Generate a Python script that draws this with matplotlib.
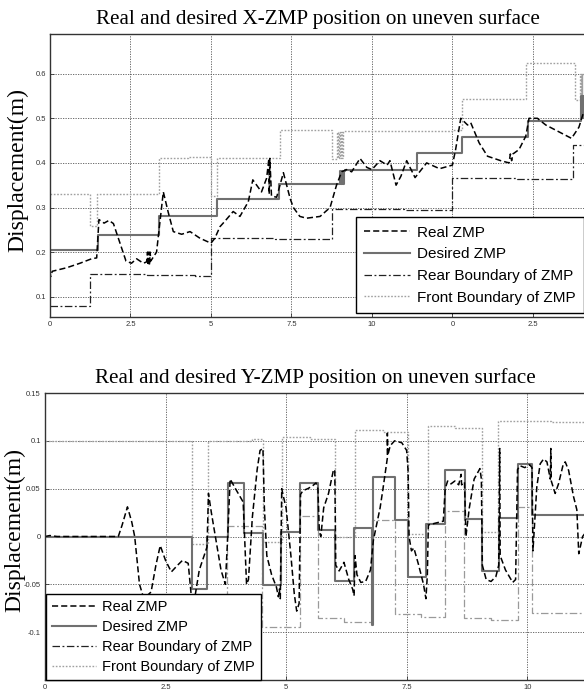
import matplotlib
matplotlib.use("Agg")
import matplotlib.pyplot as plt

# ---------------- X-ZMP (top plot) ----------------
x_ticks = [0, 2.5, 5, 7.5, 10, 12.5, 15]
x_ticklabels = ["0", "2.5", "5", "7.5", "10", "0", "2.5"]
x_yticks = [0.1, 0.2, 0.3, 0.4, 0.5, 0.6]

x_real_t = [0, 0.02, 0.07, 0.52, 0.93, 1.29, 1.45, 1.52, 1.68, 1.83,
            1.97, 2.17, 2.36, 2.53, 2.69, 2.9, 3.0, 3.03, 3.05, 3.07,
            3.09, 3.11, 3.13, 3.31, 3.52, 3.67, 3.83, 4.09, 4.35, 4.66,
            5.0, 5.12, 5.28, 5.43, 5.69, 5.9, 6.16, 6.3, 6.57, 6.73,
            6.8, 6.81, 6.83, 6.88, 7.04, 7.25, 7.46, 7.56, 7.76, 7.97,
            8.39, 8.7, 8.9, 9.06, 9.21, 9.37, 9.63, 9.84, 10.0, 10.25,
            10.47, 10.56, 10.75, 10.9, 11.08, 11.34, 11.7, 12.1, 12.5, 12.6,
            12.76, 12.97, 13.07, 13.33, 13.59, 14.0, 14.26, 14.3, 14.34, 14.38,
            14.57, 14.78, 14.88, 15.14, 15.4, 15.8, 16.2, 16.43, 16.56]
x_real_v = [0.157, 0.145, 0.157, 0.165, 0.175, 0.185, 0.187, 0.273, 0.265, 0.271,
            0.264, 0.221, 0.18, 0.175, 0.185, 0.175, 0.178, 0.2, 0.17, 0.2,
            0.17, 0.2, 0.18, 0.2, 0.335, 0.29, 0.246, 0.24, 0.246, 0.231,
            0.22, 0.231, 0.257, 0.269, 0.291, 0.28, 0.313, 0.362, 0.335, 0.366,
            0.41, 0.33, 0.41, 0.326, 0.323, 0.378, 0.32, 0.30, 0.28, 0.276,
            0.28, 0.3, 0.35, 0.38, 0.385, 0.38, 0.41, 0.39, 0.385, 0.405,
            0.395, 0.405, 0.35, 0.37, 0.405, 0.367, 0.4, 0.387, 0.395, 0.43,
            0.5, 0.485, 0.49, 0.445, 0.415, 0.405, 0.4, 0.42, 0.405, 0.42,
            0.43, 0.46, 0.5, 0.5, 0.485, 0.47, 0.455, 0.48, 0.51]

x_des_t = [0, 1.5, 3.4, 5.2, 7.1, 9.0, 9.03, 9.06, 9.09, 9.12,
           9.15, 11.4, 12.8, 14.85, 16.5, 16.52, 16.54, 16.56, 16.58, 16.7]
x_des_v = [0.205, 0.239, 0.28, 0.32, 0.353, 0.381, 0.353, 0.381, 0.353, 0.381,
           0.383, 0.423, 0.457, 0.493, 0.55, 0.5, 0.55, 0.5, 0.55, 0.55]

x_rear_t = [0, 1.24, 3.0, 4.5, 5.0, 7.0, 8.75, 11.0, 12.5, 14.5, 16.25, 16.7]
x_rear_v = [0.08, 0.152, 0.149, 0.146, 0.231, 0.229, 0.296, 0.294, 0.367, 0.365, 0.44, 0.44]

x_front_t = [0, 1.24, 1.47, 3.4, 4.3, 5.0, 5.2, 7.15, 8.75, 8.93,
             8.96, 8.99, 9.02, 9.05, 9.08, 9.11, 11.4, 12.5, 12.8, 14.8,
             16.3, 16.46, 16.48, 16.50, 16.52, 16.54, 16.7]
x_front_v = [0.331, 0.259, 0.331, 0.41, 0.413, 0.326, 0.41, 0.473, 0.409, 0.47,
             0.41, 0.47, 0.41, 0.47, 0.41, 0.471, 0.471, 0.473, 0.544, 0.623,
             0.54, 0.6, 0.54, 0.6, 0.54, 0.6, 0.54]

# ---------------- Y-ZMP (bottom plot) ----------------
y_ticks = [0, 2.5, 5, 7.5, 10]
y_yticks = [-0.1, -0.05, 0, 0.05, 0.1, 0.15]

y_real_t = [0, 0.1, 0.25, 1.52, 1.6, 1.71, 1.8, 1.86, 1.96, 2.05,
            2.2, 2.3, 2.39, 2.5, 2.62, 2.75, 2.85, 2.97, 3.03, 3.1,
            3.2, 3.3, 3.36, 3.39, 3.45, 3.55, 3.65, 3.74, 3.78, 3.84,
            3.95, 4.11, 4.14, 4.18, 4.22, 4.3, 4.4, 4.46, 4.52, 4.55,
            4.6, 4.7, 4.8, 4.84, 4.86, 4.88, 4.91, 4.93, 5.0, 5.1,
            5.17, 5.22, 5.27, 5.3, 5.35, 5.45, 5.55, 5.62, 5.66, 5.69,
            5.72, 5.78, 5.88, 5.98, 6.01, 6.03, 6.1, 6.2, 6.3, 6.38,
            6.41, 6.43, 6.47, 6.55, 6.65, 6.75, 6.81, 6.95, 7.01, 7.08,
            7.1, 7.1, 7.11, 7.16, 7.25, 7.4, 7.5, 7.53, 7.55, 7.6,
            7.65, 7.75, 7.85, 7.9, 7.93, 7.95, 8.1, 8.26, 8.3, 8.35,
            8.42, 8.5, 8.58, 8.63, 8.64, 8.7, 8.73, 8.8, 8.9, 9.02,
            9.05, 9.07, 9.15, 9.25, 9.35, 9.41, 9.43, 9.44, 9.55, 9.7,
            9.76, 9.8, 9.85, 9.95, 10.05, 10.1, 10.12, 10.2, 10.27, 10.34,
            10.41, 10.48, 10.49, 10.5, 10.58, 10.65, 10.75, 10.79, 10.86, 10.96,
            11.03, 11.07, 11.15, 11.3]
y_real_v = [0.0, 0.001, 0.0, 0.0, 0.012, 0.031, 0.015, 0.0, -0.05, -0.065,
            -0.058, -0.03, -0.0095, -0.025, -0.037, -0.03, -0.025, -0.028, -0.06, -0.066,
            -0.035, -0.02, -0.011, 0.045, 0.025, -0.005, -0.035, -0.05, -0.01, 0.06,
            0.05, 0.036, 0.0, -0.05, -0.045, 0.02, 0.07, 0.09, 0.092, 0.03,
            -0.02, -0.04, -0.053, -0.063, -0.055, -0.065, 0.05, 0.045, 0.03, -0.02,
            -0.06, -0.078, -0.07, 0.044, 0.048, 0.05, 0.053, 0.056, 0.05, 0.005,
            0.0, 0.03, 0.045, 0.069, 0.07, -0.03, -0.036, -0.027, -0.045, -0.055,
            -0.062, -0.02, -0.04, -0.048, -0.047, -0.035, -0.004, 0.03, 0.05, 0.075,
            0.082, 0.108, 0.085, 0.095, 0.1, 0.098, 0.09, 0.069, 0.0, -0.015,
            -0.012, -0.03, -0.05, -0.065, -0.04, 0.012, 0.014, 0.016, 0.05, 0.058,
            0.055, 0.058, 0.054, 0.065, 0.054, 0.057, 0.0, 0.03, 0.06, 0.071,
            0.06, -0.03, -0.045, -0.047, -0.042, -0.03, 0.092, -0.02, -0.035, -0.048,
            -0.045, 0.07, 0.074, 0.072, 0.075, 0.072, -0.015, 0.052, 0.076, 0.081,
            0.078, 0.06, 0.092, 0.058, 0.045, 0.055, 0.076, 0.078, 0.069, 0.042,
            0.028, -0.018, 0.0, 0.01]

y_des_t = [0, 3.04, 3.36, 3.80, 4.12, 4.53, 4.90, 5.28, 5.67, 6.02,
           6.40, 6.78, 6.80, 7.26, 7.53, 7.90, 8.30, 8.71, 9.07, 9.42,
           9.80, 10.10, 11.3]
y_des_v = [0.0, -0.055, 0.0, 0.056, 0.004, -0.051, 0.005, 0.056, 0.007, -0.047,
           0.009, -0.093, 0.062, 0.017, -0.042, 0.013, 0.069, 0.018, -0.036, 0.019,
           0.0755, 0.022, 0.021]

y_front_t = [0, 3.04, 3.38, 4.3, 4.53, 4.91, 5.5, 6.02, 6.43, 7.0,
             7.53, 7.95, 8.5, 9.06, 9.40, 10.5, 11.3]
y_front_v = [0.1, -0.008, 0.1, 0.102, -0.006, 0.104, 0.102, 0.0, 0.111, 0.109,
             0.003, 0.115, 0.113, 0.005, 0.121, 0.12, 0.12]

y_rear_t = [0, 3.77, 4.51, 5.29, 5.67, 6.2, 6.79, 7.26, 7.8, 8.30,
            8.69, 9.25, 9.81, 10.10, 11.3]
y_rear_v = [-0.1, 0.011, -0.095, 0.021, -0.085, -0.089, 0.017, -0.081, -0.084, 0.027,
            -0.085, -0.087, 0.031, -0.08, -0.081]

labels = ["Real ZMP", "Desired ZMP", "Rear Boundary of ZMP", "Front Boundary of ZMP"]

# ---------------- styles ----------------
real_style = dict(color="black", linestyle=(0, (4, 2)), linewidth=1.1)
des_style = dict(color="#707070", linestyle="-", linewidth=1.5)
rear_style = dict(color="#222222", linestyle=(0, (6, 2, 1.5, 2)), linewidth=0.9)
front_style = dict(color="#a0a0a0", linestyle=(0, (1.2, 1.2)), linewidth=1.0)

serif = "Liberation Serif"
sans = "Liberation Sans"

fig = plt.figure(figsize=(5.84, 6.89), dpi=100)
W, H = 584.0, 689.0

ax1 = fig.add_axes([50 / W, 1 - 317 / H, (586 - 50) / W, (317 - 34) / H])
ax2 = fig.add_axes([45 / W, 1 - 680 / H, (586 - 45) / W, (680 - 393) / H])


def style_axes(ax):
    ax.grid(True, color="#555555", linestyle=(0, (1.5, 1.5)), linewidth=0.6)
    ax.set_axisbelow(True)
    for s in ax.spines.values():
        s.set_color("#333333")
        s.set_linewidth(1.0)
    ax.tick_params(direction="in", length=3, width=0.6, labelsize=5.5,
                   labelcolor="#333333", color="#333333", pad=3)
    for lab in ax.get_xticklabels() + ax.get_yticklabels():
        lab.set_family(sans)


# top plot
l_front, = ax1.plot(x_front_t, x_front_v, drawstyle="steps-post", label=labels[3], **front_style)
l_rear, = ax1.plot(x_rear_t, x_rear_v, drawstyle="steps-post", label=labels[2], **rear_style)
l_des, = ax1.plot(x_des_t, x_des_v, drawstyle="steps-post", label=labels[1], **des_style)
l_real, = ax1.plot(x_real_t, x_real_v, label=labels[0], **real_style)
ax1.set_xlim(0, 16.65)
ax1.set_ylim(0.0545, 0.689)
ax1.set_xticks(x_ticks)
ax1.set_xticklabels(x_ticklabels)
ax1.set_yticks(x_yticks)
ax1.set_yticklabels([f"{v:g}" for v in x_yticks])
style_axes(ax1)
ax1.set_title("Real and desired X-ZMP position on uneven surface",
              family=serif, fontsize=15.2, pad=7)

handles = [l_real, l_des, l_rear, l_front]
leg1 = ax1.legend(handles, labels, loc="lower right", bbox_to_anchor=(0.9963, 0.014),
                  borderaxespad=0, fancybox=False, framealpha=1, edgecolor="black",
                  prop={"family": sans, "size": 11}, handlelength=3.0,
                  handletextpad=0.45, labelspacing=0.5, borderpad=0.55)
leg1.get_frame().set_linewidth(1.0)

# bottom plot
ax2.plot(y_front_t, y_front_v, drawstyle="steps-post", **front_style)
ax2.plot(y_rear_t, y_rear_v, drawstyle="steps-post", color="#9a9a9a",
         linestyle=(0, (6, 2, 1.5, 2)), linewidth=0.9)
ax2.plot(y_des_t, y_des_v, drawstyle="steps-post", **des_style)
ax2.plot(y_real_t, y_real_v, **real_style)
ax2.set_xlim(0, 11.22)
ax2.set_ylim(-0.15, 0.15)
ax2.set_xticks(y_ticks)
ax2.set_xticklabels([f"{v:g}" for v in y_ticks])
ax2.set_yticks(y_yticks)
ax2.set_yticklabels([f"{v:g}" for v in y_yticks])
style_axes(ax2)
ax2.set_title("Real and desired Y-ZMP position on uneven surface",
              family=serif, fontsize=15.2, pad=7)

leg2 = ax2.legend(handles, labels, loc="lower left", bbox_to_anchor=(0.002, 0.0),
                  borderaxespad=0, fancybox=False, framealpha=1, edgecolor="black",
                  prop={"family": sans, "size": 10.5}, handlelength=3.0,
                  handletextpad=0.45, labelspacing=0.42, borderpad=0.4)
leg2.get_frame().set_linewidth(1.0)

fig.text(18 / W, 1 - 170 / H, "Displacement(m)", rotation=90, ha="center", va="center",
         family=serif, fontsize=17)
fig.text(15 / W, 1 - 530 / H, "Displacement(m)", rotation=90, ha="center", va="center",
         family=serif, fontsize=17)

fig.savefig("out.png", dpi=100)
